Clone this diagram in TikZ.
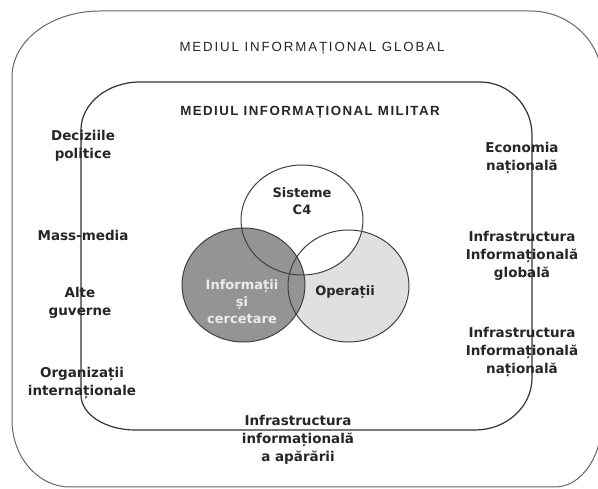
\documentclass[tikz,border=0pt]{standalone}
\usepackage{fontspec}
\setmainfont{DejaVu Sans}
\newfontfamily\titlefont[LetterSpace=14]{Liberation Sans}
\newfontfamily\titlefontb[LetterSpace=11]{Liberation Sans}
\usetikzlibrary{shapes.geometric}
\begin{document}
\begin{tikzpicture}[x=1pt,y=-1pt,
  lbl/.style={font=\bfseries\fontsize{13.5}{18}\selectfont, align=center, inner sep=0pt, text=black!85},
  inlbl/.style={font=\bfseries\fontsize{13}{17}\selectfont, align=center, inner sep=0pt},
  ttl/.style={inner sep=0pt, text=black!85},
  outerline/.style={draw=black!60, line width=1pt},
  innerline/.style={draw=black!80, line width=1.2pt},
  venn/.style={ellipse, inner sep=0pt},
  vennline/.style={draw=black!75, line width=1pt}]
\useasboundingbox (0,0) rectangle (598,489);
\fill[white] (0,0) rectangle (598,489);

% outer environment
\draw[outerline] (12,77) .. controls (12,40.5) and (51.4,11) .. (100,11)
  -- (530,11) .. controls (569.8,11) and (602,41.9) .. (602,80)
  -- (602,420) .. controls (602,457) and (581,487) .. (555,487)
  -- (70,487) .. controls (38,487) and (12,457) .. (12,420) -- cycle;

% inner environment
\draw[innerline] (81,130) .. controls (81,103.5) and (107.4,82) .. (140,82)
  -- (480,82) .. controls (508.7,82) and (532,105.7) .. (532,135)
  -- (532,378) .. controls (532,406.7) and (506.5,430) .. (475,430)
  -- (135,430) .. controls (105.2,430) and (81,414.3) .. (81,395) -- cycle;

% Venn circles (fills)
\node[venn, fill=black!12, minimum width=121pt, minimum height=112pt] (oper) at (348.5,286) {};
\node[venn, fill=white, minimum width=122pt, minimum height=110pt] (c4) at (302,220) {};
\node[venn, fill=black!42, minimum width=123pt, minimum height=114pt] (intel) at (243.5,285) {};
% outlines
\draw[vennline] (oper.center) ellipse [x radius=60.5pt, y radius=56pt];
\draw[vennline] (c4.center) ellipse [x radius=61pt, y radius=55pt];
\draw[vennline] (intel.center) ellipse [x radius=61.5pt, y radius=57pt];

% titles
\node[ttl, font=\titlefont\fontsize{13.3}{16}\selectfont] (tglobal) at (312,48) {MEDIUL INFORMAȚIONAL GLOBAL};
\node[ttl, font=\titlefontb\bfseries\fontsize{13.3}{16}\selectfont] (tmil) at (310,112) {MEDIUL INFORMAȚIONAL MILITAR};

% left labels
\node[lbl] (dec) at (83,146) {Deciziile\\politice};
\node[lbl] (mass) at (83,235) {Mass-media};
\node[lbl] (alte) at (80,302.5) {Alte\\guverne};
\node[lbl] (org) at (82,382.5) {Organizații\\internaționale};

% right labels
\node[lbl] (eco) at (522,158) {Economia\\națională};
\node[lbl] (iglob) at (522,256) {Infrastructura\\Informațională\\globală};
\node[lbl] (inat) at (522,352) {Infrastructura\\Informațională\\națională};

% bottom label
\node[lbl] (iap) at (298,440) {Infrastructura\\informațională\\a apărării};

% Venn labels
\node[inlbl, text=black!85] (lc4) at (302,201) {Sisteme\\C4};
\node[inlbl, text=white!92!black] (lintel) at (242,302) {Informații\\și\\cercetare};
\node[inlbl, text=black!85] (loper) at (345,292) {Operații};
\end{tikzpicture}
\end{document}
